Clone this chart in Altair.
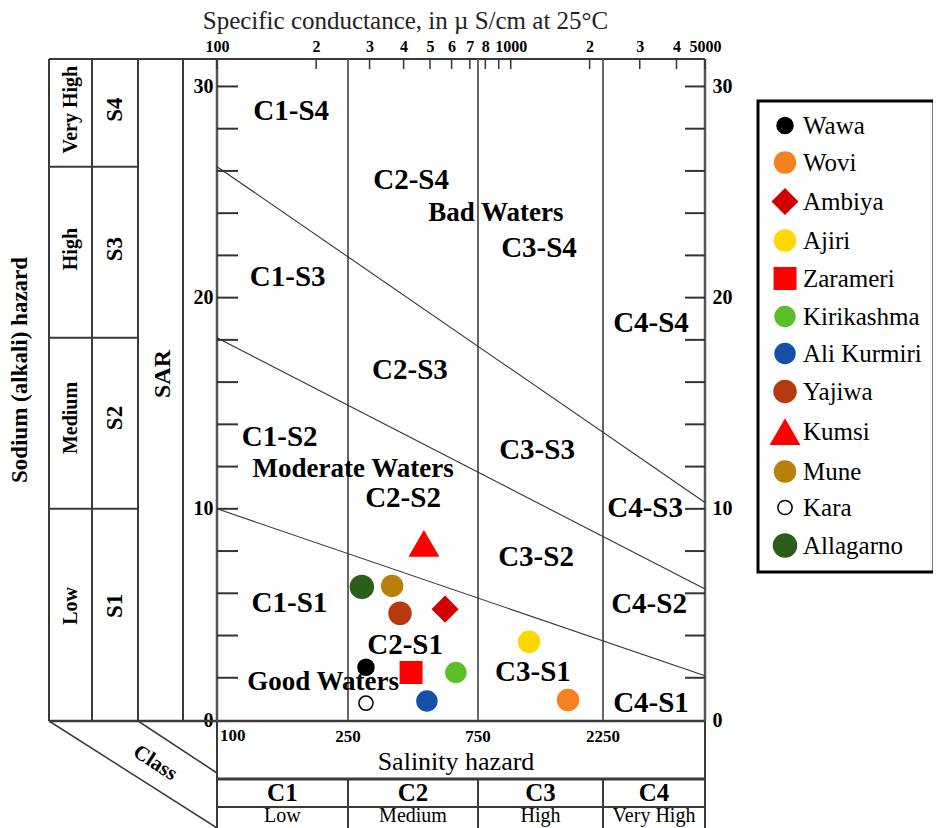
import altair as alt
import pandas as pd

# ---------------- data ----------------
sites = ["Wawa", "Wovi", "Ambiya", "Ajiri", "Zarameri", "Kirikashma",
         "Ali Kurmiri", "Yajiwa", "Kumsi", "Mune", "Kara", "Allagarno"]
site_ec = [291, 1655, 568, 1175, 426, 622, 487, 388, 475, 363, 291, 281]
site_sar = [2.5, 0.95, 5.25, 3.7, 2.25, 2.25, 0.9, 5.05, 8.35, 6.35, 0.8, 6.3]

fill_colors = ["#000000", "#F58220", "#D00000", "#FFD700", "#FF0000", "#5CBF2A",
               "#1550A8", "#B53A0E", "#FF0000", "#B8800A", "#FFFFFF", "#2B5E1B"]
stroke_colors = ["#000000", "#F58220", "#D00000", "#FFD700", "#FF0000", "#5CBF2A",
                 "#1550A8", "#B53A0E", "#FF0000", "#B8800A", "#000000", "#2B5E1B"]
shapes = ["circle", "circle", "diamond", "circle", "square", "circle",
          "circle", "circle", "triangle-up", "circle", "circle", "circle"]
sizes = [256, 441, 620, 441, 460, 400, 400, 484, 800, 441, 200, 529]

zone_labels = ["C1-S4", "C2-S4", "C3-S4", "C4-S4",
               "C1-S3", "C2-S3", "C3-S3", "C4-S3",
               "C1-S2", "C2-S2", "C3-S2", "C4-S2",
               "C1-S1", "C2-S1", "C3-S1", "C4-S1"]
zone_ec = [168, 426, 1282, 3276,
           164, 422, 1260, 3127,
           155, 398, 1249, 3226,
           166, 405, 1216, 3276]
zone_sar = [28.83, 25.57, 22.35, 18.8,
            20.98, 16.57, 12.78, 10.04,
            13.4, 10.5, 7.72, 5.49,
            5.54, 3.55, 2.27, 0.8]

water_labels = ["Bad Waters", "Moderate Waters", "Good Waters"]
water_ec = [878, 261, 210]
water_sar = [24.0, 11.9, 1.8]

boundary_ids = ["S1|S2", "S1|S2", "S2|S3", "S2|S3", "S3|S4", "S3|S4"]
boundary_ec = [100, 5000, 100, 5000, 100, 5000]
boundary_sar = [10.0, 2.1, 18.1, 6.2, 26.2, 10.3]

class_limits = [250, 750, 2250]
class_names = ["C1", "C2", "C3", "C4"]
class_hazard = ["Low", "Medium", "High", "Very High"]
class_mid_ec = [158, 433, 1299, 3354]

s_names = ["S4", "S3", "S2", "S1"]
s_hazard = ["Very High", "High", "Medium", "Low"]
s_mid_sar = [28.9, 22.3, 14.3, 5.4]
s_limits = [26.2, 18.1, 10.0]

top_tick_values = [100, 200, 300, 400, 500, 600, 700, 800, 900, 1000, 2000, 3000, 4000, 5000]
top_tick_labels = ["100", "2", "3", "4", "5", "6", "7", "8", "", "1000", "2", "3", "4", "5000"]
sar_tick_values = [2, 4, 6, 8, 10, 12, 14, 16, 18, 20, 22, 24, 26, 28, 30]
sar_label_values = [0, 10, 20, 30]
bottom_ec_values = [250, 750, 2250]
bottom_first = [100]

# ---------------- setup ----------------
FONT = "Liberation Serif"
W, H = 488, 661
xscale = alt.Scale(type="log", domain=[100, 250, 750, 2250, 5000],
                   range=[0, 131, 261, 386, 488], nice=False)
yscale = alt.Scale(domain=[0, 31.3], nice=False)
one = pd.DataFrame({"d": [0]})


def X(field="ec", axis=None):
    return alt.X(f"{field}:Q", scale=xscale, axis=axis)


def Y(field="sar", axis=None):
    return alt.Y(f"{field}:Q", scale=yscale, axis=axis)


def seg(x1, y1, x2, y2, w=2.0, color="#3a3a3a"):
    return alt.Chart(one).mark_rule(color=color, strokeWidth=w).encode(
        x=alt.value(x1), y=alt.value(y1), x2=alt.value(x2), y2=alt.value(y2))


def txt(s, x, y, size, weight="bold", angle=0, align="center"):
    return alt.Chart(one).mark_text(
        text=s, font=FONT, fontSize=size, fontWeight=weight, angle=angle,
        align=align, baseline="middle", color="black").encode(
        x=alt.value(x), y=alt.value(y))


label_expr = ""
for v, lab in zip(top_tick_values, top_tick_labels):
    label_expr += f"datum.value == {v} ? '{lab}' : "
label_expr += "''"

layers = []

# frame and table lines
layers += [
    seg(-168, 0, W, 0, 2.0),
    seg(-168, 662, W, 662, 2.5),
    seg(0, 0, 0, 662, 2.5, "#555"),
    seg(W, 0, W, 662, 2.5, "#555"),
    seg(-168, 0, -168, 662, 2.0),
    seg(-125, 0, -125, 662, 2.0),
    seg(-79, 0, -79, 662, 2.0),
    seg(-34, 0, -34, 662, 2.0),
    seg(-168, 662, 0, 769, 1.5),
    seg(-79, 662, 0, 714, 1.5),
    seg(0, 662, 0, 800, 2.0),
    seg(W, 662, W, 800, 2.0),
    seg(0, 720, W, 720, 3.0),
    seg(0, 748, W, 748, 2.0),
]

# S-class boundaries in left table
layers.append(
    alt.Chart(pd.DataFrame({"sar": s_limits})).mark_rule(color="#3a3a3a", strokeWidth=2).encode(
        y=Y(), x=alt.value(-168), x2=alt.value(-79)))

# class boundaries in plot and bottom table
cls = pd.DataFrame({"ec": class_limits})
layers.append(alt.Chart(cls).mark_rule(color="#666", strokeWidth=2).encode(x=X()))
layers.append(alt.Chart(cls).mark_rule(color="#3a3a3a", strokeWidth=2).encode(
    x=X(), y=alt.value(720), y2=alt.value(800)))

# hazard boundary lines
bnd = pd.DataFrame({"id": boundary_ids, "ec": boundary_ec, "sar": boundary_sar})
layers.append(alt.Chart(bnd).mark_line(color="#333", strokeWidth=1.1).encode(
    x=X(), y=Y(), detail="id:N"))

# top axis with inward ticks
layers.append(alt.Chart(pd.DataFrame({"ec": top_tick_values})).mark_rule(
    color="#333", strokeWidth=1.5).encode(
    x=X(axis=alt.Axis(orient="top", values=top_tick_values, labelExpr=label_expr,
                      ticks=False, domain=False, grid=False, labelFont=FONT,
                      labelFontSize=16, labelFontWeight="bold", labelColor="black",
                      labelPadding=5, labelFlush=False, labelOverlap=False,
                      title="Specific conductance, in \u00b5 S/cm at 25\u00b0C",
                      titleFont=FONT, titleFontSize=25, titleFontWeight="normal",
                      titleColor="#222", titleX=188, titleY=-39,
                      titleBaseline="middle", titleAlign="center")),
    y=alt.value(0), y2=alt.value(10)))

# left / right SAR ticks with labels
sar_df = pd.DataFrame({"sar": sar_tick_values})
layers.append(alt.Chart(sar_df).mark_rule(color="#333", strokeWidth=2).encode(
    y=Y(axis=alt.Axis(orient="left", values=sar_label_values, ticks=False, domain=False,
                      grid=False, labelFont=FONT, labelFontSize=20, labelFontWeight="bold",
                      labelColor="black", labelPadding=4, title=None)),
    x=alt.value(0), x2=alt.value(21)))
layers.append(alt.Chart(sar_df).mark_rule(color="#333", strokeWidth=2).encode(
    y=Y(axis=alt.Axis(orient="right", values=sar_label_values, ticks=False, domain=False,
                      grid=False, labelFont=FONT, labelFontSize=20, labelFontWeight="bold",
                      labelColor="black", labelPadding=7, title=None)),
    x=alt.value(W - 20), x2=alt.value(W)))

# zone labels
zdf = pd.DataFrame({"label": zone_labels, "ec": zone_ec, "sar": zone_sar})
layers.append(alt.Chart(zdf).mark_text(font=FONT, fontSize=29, fontWeight="bold",
                                       color="black", baseline="middle").encode(
    x=X(), y=Y(), text="label:N"))
wdf = pd.DataFrame({"label": water_labels, "ec": water_ec, "sar": water_sar})
layers.append(alt.Chart(wdf).mark_text(font=FONT, fontSize=27, fontWeight="bold",
                                       color="black", baseline="middle").encode(
    x=X(), y=Y(), text="label:N"))

# points
pts = pd.DataFrame({"site": sites, "ec": site_ec, "sar": site_sar})
leg = alt.Legend(title=None, orient="none", legendX=541, legendY=42, padding=12,
                 fillColor="white",
                 labelFont=FONT, labelFontSize=25, labelColor="black", labelOffset=3,
                 rowPadding=10, symbolStrokeWidth=1.5, labelLimit=300)
layers.append(alt.Chart(pts).mark_point(filled=True, opacity=1, strokeWidth=1.5).encode(
    x=X(), y=Y(),
    fill=alt.Fill("site:N", scale=alt.Scale(domain=sites, range=fill_colors), legend=leg),
    stroke=alt.Stroke("site:N", scale=alt.Scale(domain=sites, range=stroke_colors), legend=leg),
    shape=alt.Shape("site:N", scale=alt.Scale(domain=sites, range=shapes), legend=leg),
    size=alt.Size("site:N", scale=alt.Scale(type="ordinal", domain=sites, range=sizes), legend=leg),
))

# left table texts
sdf = pd.DataFrame({"s": s_names, "h": s_hazard, "sar": s_mid_sar})
layers.append(alt.Chart(sdf).mark_text(font=FONT, fontSize=23, fontWeight="bold", angle=270,
                                       color="black", baseline="middle").encode(
    y=Y(), x=alt.value(-102), text="s:N"))
layers.append(alt.Chart(sdf).mark_text(font=FONT, fontSize=20, fontWeight="bold", angle=270,
                                       color="black", baseline="middle").encode(
    y=Y(), x=alt.value(-146), text="h:N"))
layers.append(txt("SAR", -54, 315, 24, angle=270))
layers.append(txt("Sodium (alkali) hazard", -197, 311, 23, angle=270))
layers.append(txt("Class", -62, 704, 21, angle=33))

# bottom table texts
layers.append(alt.Chart(pd.DataFrame({"ec": bottom_first})).mark_text(
    font=FONT, fontSize=17, fontWeight="bold", align="left", dx=3, color="black",
    baseline="middle").encode(x=X(), y=alt.value(677), text="ec:N"))
layers.append(alt.Chart(pd.DataFrame({"ec": bottom_ec_values})).mark_text(
    font=FONT, fontSize=17, fontWeight="bold", color="black", baseline="middle").encode(
    x=X(), y=alt.value(678), text="ec:N"))
layers.append(txt("Salinity hazard", 239, 703, 26, weight="normal"))
cdf = pd.DataFrame({"c": class_names, "h": class_hazard, "ec": class_mid_ec})
layers.append(alt.Chart(cdf).mark_text(font=FONT, fontSize=25, fontWeight="bold",
                                       color="black", baseline="middle").encode(
    x=X(), y=alt.value(734), text="c:N"))
layers.append(alt.Chart(cdf).mark_text(font=FONT, fontSize=20, color="black",
                                       baseline="middle").encode(
    x=X(), y=alt.value(757), text="h:N"))

chart = alt.layer(*layers).resolve_axis(x="independent", y="independent").properties(
    width=W, height=H,
    padding={"left": 209, "top": 51, "right": 228, "bottom": 108},
    autosize=alt.AutoSizeParams(type="none"),
).configure_view(stroke=None).configure_legend(strokeColor="black", strokeWidth=3)

chart.save("out.html", embed_options={"renderer": "svg", "actions": False})
